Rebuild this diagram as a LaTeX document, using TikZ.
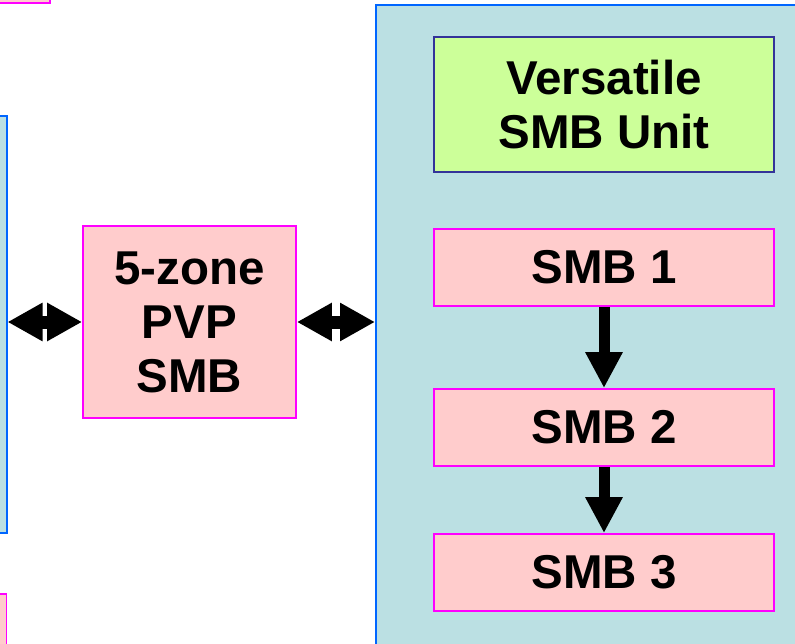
\documentclass[tikz,border=0pt]{standalone}
\usepackage{fontspec}
\setmainfont{Liberation Sans}
\usetikzlibrary{arrows.meta}
\definecolor{unitfill}{HTML}{BBE0E3}
\definecolor{unitline}{HTML}{0066FF}
\definecolor{smbfill}{HTML}{FFCCCC}
\definecolor{smbline}{HTML}{FF00FF}
\definecolor{headfill}{HTML}{CCFF99}
\definecolor{headline}{HTML}{333399}
\tikzset{
  unitbox/.style={draw=unitline, fill=unitfill, line width=2pt, rectangle, inner sep=0pt},
  smbbox/.style={draw=smbline, fill=smbfill, line width=1.8pt, rectangle, inner sep=0pt,
    font=\fontsize{47.5}{54}\selectfont\bfseries, align=center},
  headbox/.style={draw=headline, fill=headfill, line width=1.8pt, rectangle, inner sep=0pt,
    font=\fontsize{47.5}{54}\selectfont\bfseries, align=center},
  flowarrow/.style={line width=11pt, -{Triangle[width=35pt,length=36pt]}},
  linkarrow/.style={line width=13pt, {Triangle[width=36pt,length=35pt]}-{Triangle[width=36pt,length=35pt]}}
}
\begin{document}
\begin{tikzpicture}[x=1pt,y=-1pt]
\useasboundingbox (0,0) rectangle (795,644);
\clip (0,0) rectangle (795,644);

% partial units at the left edge
\node[smbbox, minimum width=150pt, minimum height=100pt] (topleft) at (-25,-47) {};
\node[unitbox, minimum width=200pt, minimum height=417pt] (leftunit) at (-93.5,324.5) {};
\node[smbbox, minimum width=150pt, minimum height=100pt] (botleft) at (-68.5,644) {};

% versatile unit container
\node[unitbox, minimum width=460pt, minimum height=700pt] (bigunit) at (606,355) {};

\node[headbox, minimum width=340pt, minimum height=135pt] (title) at (604,104.5) {Versatile\\SMB Unit};
\node[smbbox, minimum width=340pt, minimum height=77pt] (smb1) at (604,267.5) {SMB 1};
\node[smbbox, minimum width=340pt, minimum height=77pt] (smb2) at (604,427.5) {SMB 2};
\node[smbbox, minimum width=340pt, minimum height=77pt] (smb3) at (604,572.5) {SMB 3};

\node[smbbox, minimum width=213pt, minimum height=192pt] (pvp) at (189.5,322) {5-zone\\PVP\\SMB};

% flow between the stages
\draw[flowarrow] (smb1.south) -- (smb2.north);
\draw[flowarrow] (smb2.south) -- (smb3.north);

% two-way links
\draw[linkarrow] (pvp.west -| leftunit.east) -- (pvp.west);
\draw[linkarrow] (pvp.east) -- (pvp.east -| bigunit.west);
\end{tikzpicture}
\end{document}
